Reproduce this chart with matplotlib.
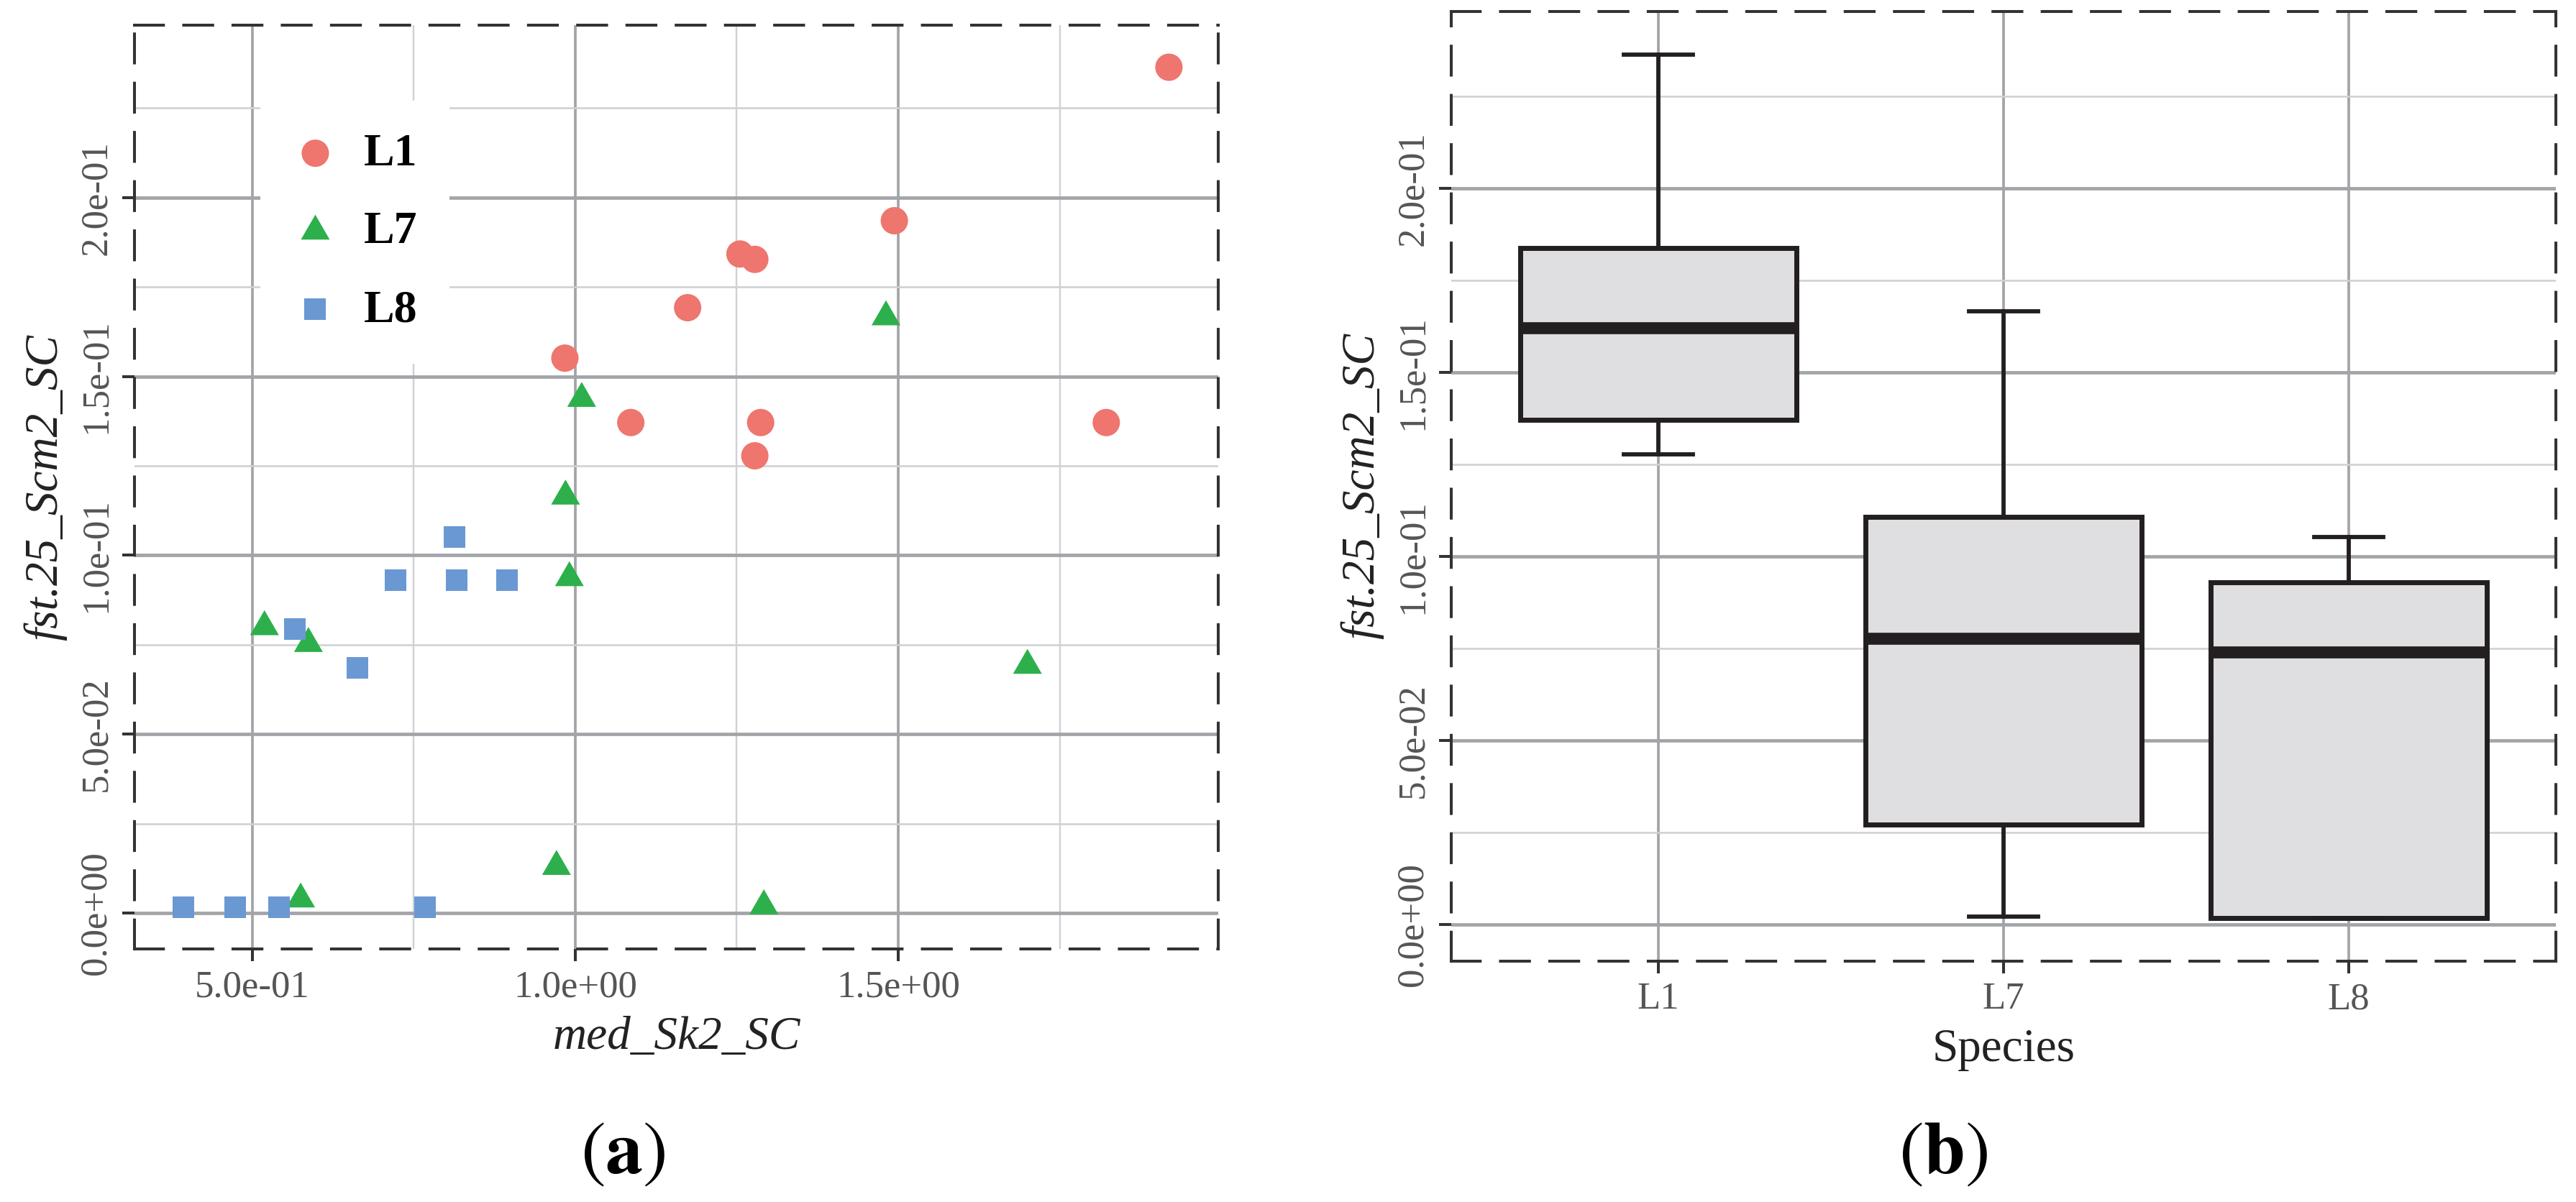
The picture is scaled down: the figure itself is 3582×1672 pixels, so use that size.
import matplotlib
matplotlib.use('Agg')
import matplotlib.pyplot as plt
import numpy as np
from matplotlib.ticker import MultipleLocator, FuncFormatter
from matplotlib.path import Path

plt.rcParams['font.family'] = ['Liberation Serif', 'DejaVu Serif']

# values
species = ['L1', 'L7', 'L8']
l1_x = [1.919, 1.494, 1.255, 1.278, 1.174, 0.984, 1.086, 1.287, 1.278, 1.822]
l1_y = [0.2364, 0.1935, 0.1842, 0.1827, 0.1692, 0.1551, 0.1371, 0.1371, 0.1278, 0.1371]
l7_x = [1.481, 1.010, 0.985, 0.991, 0.519, 0.587, 1.700, 0.971, 0.575, 1.292]
l7_y = [0.1666, 0.1438, 0.1165, 0.0937, 0.0800, 0.0753, 0.0692, 0.0130, 0.0039, 0.0020]
l8_x = [0.813, 0.722, 0.817, 0.894, 0.566, 0.663, 0.394, 0.474, 0.542, 0.768]
l8_y = [0.1052, 0.0930, 0.0930, 0.0930, 0.0794, 0.0686, 0.0017, 0.0017, 0.0017, 0.0017]

colors = {'L1': '#ee766e', 'L7': '#2db04b', 'L8': '#6a98d2'}
dark = '#231f20'
grid_major = '#a3a4a8'
grid_minor = '#d0d1d4'

tri = Path([(0, 0.577), (-0.5, -0.289), (0.5, -0.289), (0, 0.577)],
           [Path.MOVETO, Path.LINETO, Path.LINETO, Path.CLOSEPOLY])


def expand(vals, f=0.05):
    lo, hi = min(vals), max(vals)
    d = (hi - lo) * f
    return lo - d, hi + d


def style(ax):
    ax.set_facecolor('white')
    ax.set_axisbelow(True)
    for s in ax.spines.values():
        s.set_linestyle((0, (10, 7)))
        s.set_linewidth(2.9)
        s.set_edgecolor('#333333')
    ax.tick_params(which='major', length=12, width=2.9, color='#333333',
                   labelsize=38, labelcolor='#555555', pad=9)
    ax.tick_params(which='minor', length=0)
    ax.yaxis.set_major_locator(MultipleLocator(0.05))
    ax.yaxis.set_minor_locator(MultipleLocator(0.025))
    ax.yaxis.set_major_formatter(FuncFormatter(lambda v, p: f'{v:.1e}'))
    ax.tick_params(axis='y', labelrotation=90)
    plt.setp(ax.get_yticklabels(), va='center')
    ax.yaxis.grid(True, which='major', color=grid_major, lw=3.4)
    ax.yaxis.grid(True, which='minor', color=grid_minor, lw=1.9)
    ax.set_ylabel('fst.25_Scm2_SC', fontsize=47, style='italic',
                  color='#222222', labelpad=12)


fig = plt.figure(figsize=(35.82, 16.72), dpi=100)
ax1 = fig.add_axes([0.0522, 0.2105, 0.4207, 0.7685])
ax2 = fig.add_axes([0.5634, 0.2004, 0.4288, 0.7901])

all_y = l1_y + l7_y + l8_y
ylim = expand(all_y)

# (a) scatter
h1 = ax1.scatter(l1_x, l1_y, s=750, marker='o', color=colors['L1'], edgecolors='none', label='L1', zorder=3)
h7 = ax1.scatter(l7_x, l7_y, s=1108, marker=tri, color=colors['L7'], edgecolors='none', label='L7', zorder=3)
h8 = ax1.scatter(l8_x, l8_y, s=467, marker='s', color=colors['L8'], edgecolors='none', label='L8', zorder=3)
ax1.set_xlim(*expand(l1_x + l7_x + l8_x))
ax1.set_ylim(*ylim)
ax1.xaxis.set_major_locator(MultipleLocator(0.5))
ax1.xaxis.set_minor_locator(MultipleLocator(0.25))
ax1.xaxis.set_major_formatter(FuncFormatter(lambda v, p: f'{v:.1e}'))
style(ax1)
ax1.xaxis.grid(True, which='major', color=grid_major, lw=2.7)
ax1.xaxis.grid(True, which='minor', color=grid_minor, lw=1.7)
ax1.set_xlabel('med_Sk2_SC', fontsize=47, style='italic', color='#222222', labelpad=12)
leg = ax1.legend([h1, h7, h8], species, loc='upper left', bbox_to_anchor=(0.116, 0.918),
                 borderaxespad=0, frameon=True, facecolor='white', edgecolor='none',
                 framealpha=1, fancybox=False, prop={'weight': 'bold', 'size': 46},
                 handlelength=1.0, handletextpad=0.55, labelspacing=0.78,
                 borderpad=0.7, scatterpoints=1)
leg.set_zorder(2.5)

# (b) boxplot
bp = ax2.boxplot([l1_y, l7_y, l8_y], positions=[1, 2, 3], widths=0.8,
                 patch_artist=True, capwidths=0.2, showfliers=False,
                 boxprops=dict(facecolor='#dfdfe1', edgecolor=dark, linewidth=5.0),
                 medianprops=dict(color=dark, linewidth=12, solid_capstyle='butt'),
                 whiskerprops=dict(color=dark, linewidth=4.2),
                 capprops=dict(color=dark, linewidth=4.2))
ax2.set_xticks([1, 2, 3], species)
ax2.set_xlim(0.4, 3.6)
ax2.set_ylim(*ylim)
style(ax2)
ax2.xaxis.grid(True, which='major', color=grid_major, lw=2.7)
ax2.set_xlabel('Species', fontsize=47, color='#222222', labelpad=12)

fig.text(866 / 3582, 1 - 1607 / 1672, r'$(\mathbf{a})$', math_fontfamily='stix',
         fontsize=75, ha='center', va='center')
fig.text(2702 / 3582, 1 - 1607 / 1672, r'$(\mathbf{b})$', math_fontfamily='stix',
         fontsize=75, ha='center', va='center')

fig.savefig('out.png', dpi=100, facecolor='white')
